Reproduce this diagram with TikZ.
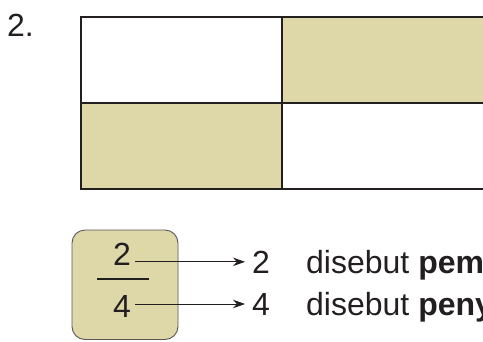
\documentclass[tikz,border=0pt]{standalone}
\usepackage{fontspec}
\setmainfont{Liberation Sans}
\usetikzlibrary{arrows.meta,positioning}
\definecolor{khaki}{RGB}{222,216,168}
\definecolor{ink}{RGB}{35,31,32}

\begin{document}
\begin{tikzpicture}[x=1pt,y=-1pt,>={Stealth[length=12pt,width=8.5pt]},
        txt/.style={font=\fontsize{32}{34}\selectfont,inner sep=0pt,text=ink},
        pointer/.style={->,line width=0.9pt,draw=ink,shorten <=4pt,shorten >=7pt}]
        \useasboundingbox (0,0) rectangle (483,341);
        \clip (0,0) rectangle (483,341);
        % grid of four parts
        \fill[khaki] (282,17) rectangle (490,103);
        \fill[khaki] (81,103) rectangle (282,189);
        \draw[line width=2pt,ink] (81,17) rectangle (490,189);
        \draw[line width=2pt,ink] (81,103) -- (490,103) (282,17) -- (282,189);
        \node[txt,anchor=base west] (nomor) at (7,36) {2.};
        % fraction box
        \draw[fill=khaki,draw=ink!75,line width=0.9pt,rounded corners=13pt] (72,230) rectangle (178,339.5);
        \node[txt,anchor=base] (pem) at (122,265) {2};
        \node[txt,anchor=base] (peny) at (122,317) {4};
        \draw[line width=1.4pt,ink] (97,279) -- (149,279);
        \node[txt,anchor=base west] (angka1) at (252,273) {2};
        \node[txt,anchor=base west] (angka2) at (252,315) {4};
        \node[txt,anchor=base west] (ket1) at (306,273) {disebut \textbf{pem}};
        \node[txt,anchor=base west] (ket2) at (306,315) {disebut \textbf{peny}};
        \draw[pointer] (pem.east |- angka1.west) -- (angka1.west);
        \draw[pointer] (peny.east |- angka2.west) -- (angka2.west);
\end{tikzpicture}
\end{document}
